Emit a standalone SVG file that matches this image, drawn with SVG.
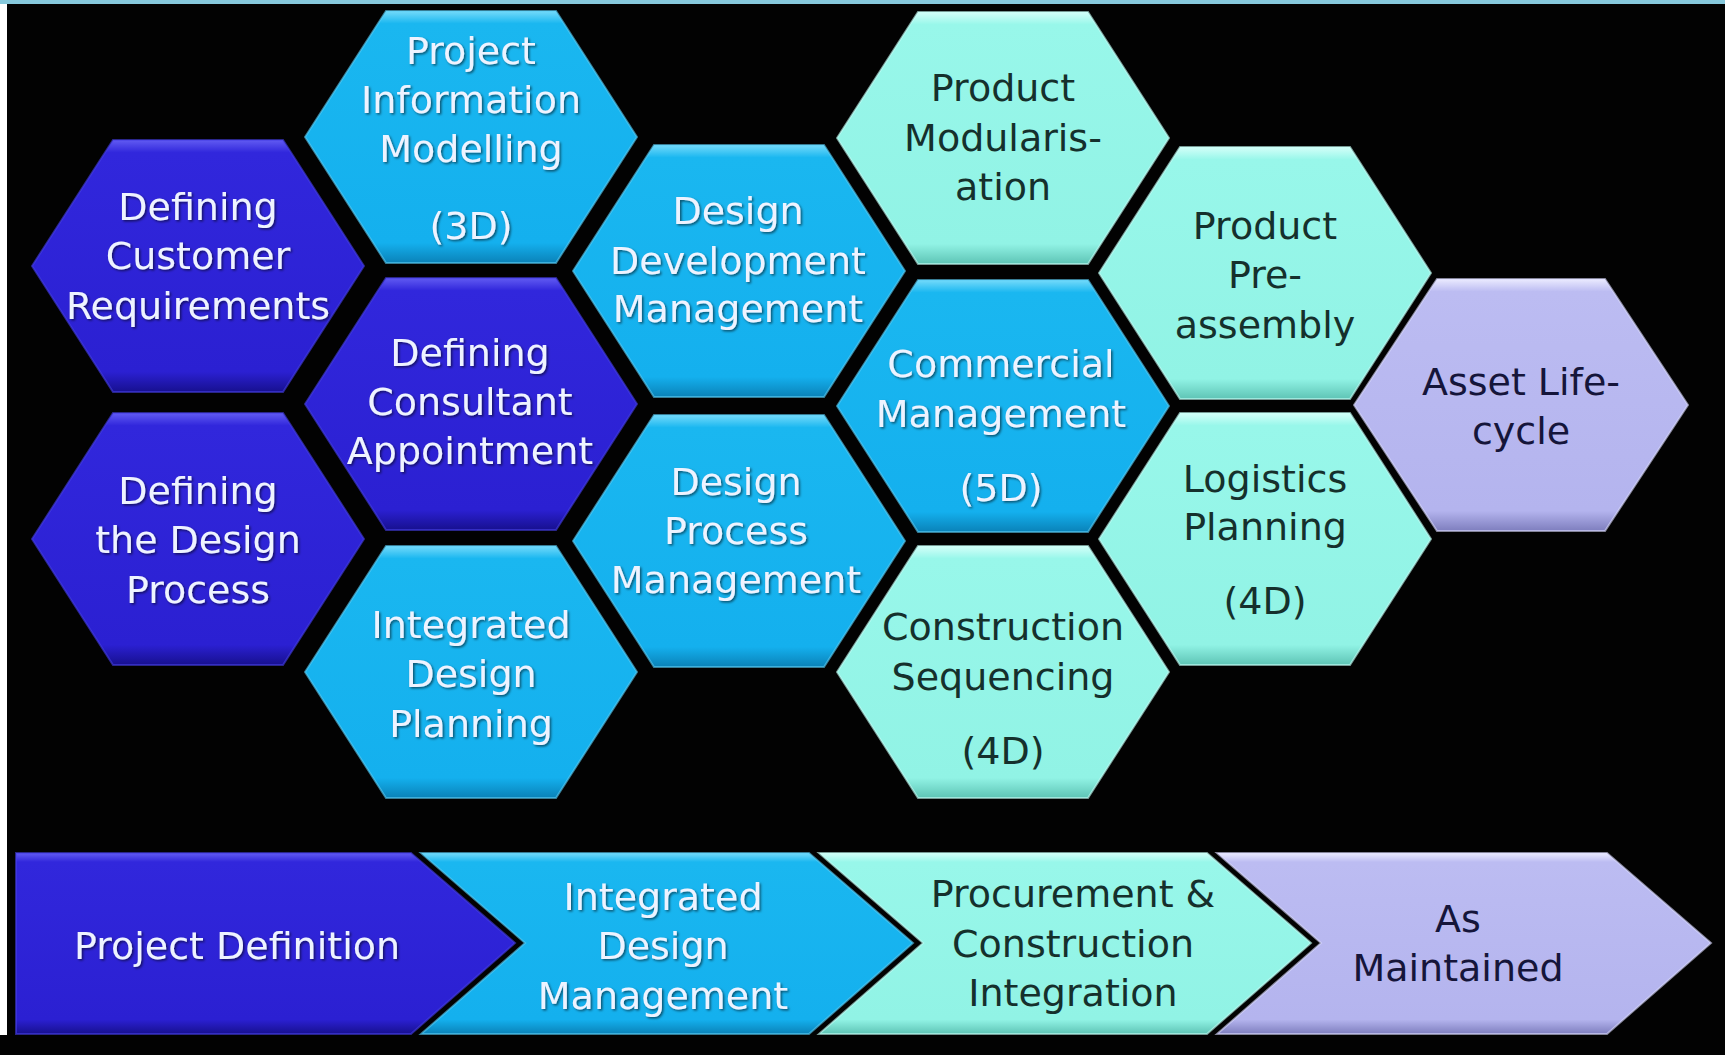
<svg xmlns="http://www.w3.org/2000/svg" width="1725" height="1055" viewBox="0 0 1725 1055">
<defs>
  <linearGradient id="gBlue" x1="0" y1="0" x2="0" y2="1">
    <stop offset="0" stop-color="#615bf2"/>
    <stop offset="0.05" stop-color="#3127dc"/>
    <stop offset="0.92" stop-color="#2b20d2"/>
    <stop offset="1" stop-color="#17108f"/>
  </linearGradient>
  <linearGradient id="gCyan" x1="0" y1="0" x2="0" y2="1">
    <stop offset="0" stop-color="#74dafa"/>
    <stop offset="0.05" stop-color="#1ab7f0"/>
    <stop offset="0.92" stop-color="#14b0ee"/>
    <stop offset="1" stop-color="#0a82b8"/>
  </linearGradient>
  <linearGradient id="gAqua" x1="0" y1="0" x2="0" y2="1">
    <stop offset="0" stop-color="#d4fff9"/>
    <stop offset="0.05" stop-color="#98f7ea"/>
    <stop offset="0.92" stop-color="#91f3e5"/>
    <stop offset="1" stop-color="#5ec4b5"/>
  </linearGradient>
  <linearGradient id="gLav" x1="0" y1="0" x2="0" y2="1">
    <stop offset="0" stop-color="#ebebff"/>
    <stop offset="0.05" stop-color="#bcbcf2"/>
    <stop offset="0.92" stop-color="#b4b4ee"/>
    <stop offset="1" stop-color="#7e7ebe"/>
  </linearGradient>
  <filter id="sh" x="-10%" y="-10%" width="120%" height="130%">
    <feDropShadow dx="1.5" dy="1.5" stdDeviation="1.2" flood-color="#000" flood-opacity="0.55"/>
  </filter>
</defs>
<style>
  .blue{fill:url(#gBlue);stroke:#4640e6;stroke-width:2;stroke-opacity:0.6}
  .cyan{fill:url(#gCyan);stroke:#5ccff6;stroke-width:2;stroke-opacity:0.6}
  .aqua{fill:url(#gAqua);stroke:#c4fff6;stroke-width:2;stroke-opacity:0.6}
  .lav{fill:url(#gLav);stroke:#dcdcff;stroke-width:2;stroke-opacity:0.6}
  text{font-family:"DejaVu Sans","Liberation Sans",sans-serif;font-size:38px;text-anchor:middle}
  .lt{fill:#eef3ff;filter:url(#sh)}
  .dk{fill:#15302c}
  .dl{fill:#15153a}
</style>
<rect x="0" y="0" width="1725" height="1055" fill="#020202"/>
<rect x="0" y="0" width="7" height="1035" fill="#ffffff"/>
<rect x="0" y="0" width="1725" height="4" fill="#86c9dc"/>

<g id="connectors"></g>

<g id="h-defining-customer">
  <polygon class="blue" points="32,266 113,140 283,140 364,266 283,392 113,392"/>
  <text class="lt" x="198" y="220">Defining</text>
  <text class="lt" x="198" y="269">Customer</text>
  <text class="lt" x="198" y="319">Requirements</text>
</g>
<g id="h-defining-design-process">
  <polygon class="blue" points="32,539 113,413 283,413 364,539 283,665 113,665"/>
  <text class="lt" x="198" y="504">Defining</text>
  <text class="lt" x="198" y="553">the Design</text>
  <text class="lt" x="198" y="603">Process</text>
</g>
<g id="h-project-information">
  <polygon class="cyan" points="305,137 386,11 556,11 637,137 556,263 386,263"/>
  <text class="lt" x="471" y="64">Project</text>
  <text class="lt" x="471" y="113">Information</text>
  <text class="lt" x="471" y="162">Modelling</text>
  <text class="lt" x="471" y="239">(3D)</text>
</g>
<g id="h-defining-consultant">
  <polygon class="blue" points="305,404 386,278 556,278 637,404 556,530 386,530"/>
  <text class="lt" x="470" y="366">Defining</text>
  <text class="lt" x="470" y="415">Consultant</text>
  <text class="lt" x="470" y="464">Appointment</text>
</g>
<g id="h-integrated-design-planning">
  <polygon class="cyan" points="305,672 386,546 556,546 637,672 556,798 386,798"/>
  <text class="lt" x="471" y="638">Integrated</text>
  <text class="lt" x="471" y="687">Design</text>
  <text class="lt" x="471" y="737">Planning</text>
</g>
<g id="h-design-development">
  <polygon class="cyan" points="573,271 654,145 824,145 905,271 824,397 654,397"/>
  <text class="lt" x="738" y="224">Design</text>
  <text class="lt" x="738" y="274">Development</text>
  <text class="lt" x="738" y="322">Management</text>
</g>
<g id="h-design-process">
  <polygon class="cyan" points="573,541 654,415 824,415 905,541 824,667 654,667"/>
  <text class="lt" x="736" y="495">Design</text>
  <text class="lt" x="736" y="544">Process</text>
  <text class="lt" x="736" y="593">Management</text>
</g>
<g id="h-product-modularisation">
  <polygon class="aqua" points="837,138 918,12 1088,12 1169,138 1088,264 918,264"/>
  <text class="dk" x="1003" y="101">Product</text>
  <text class="dk" x="1003" y="151">Modularis-</text>
  <text class="dk" x="1003" y="200">ation</text>
</g>
<g id="h-commercial">
  <polygon class="cyan" points="837,406 918,280 1088,280 1169,406 1088,532 918,532"/>
  <text class="lt" x="1001" y="377">Commercial</text>
  <text class="lt" x="1001" y="427">Management</text>
  <text class="lt" x="1001" y="501">(5D)</text>
</g>
<g id="h-construction-sequencing">
  <polygon class="aqua" points="837,672 918,546 1088,546 1169,672 1088,798 918,798"/>
  <text class="dk" x="1003" y="640">Construction</text>
  <text class="dk" x="1003" y="690">Sequencing</text>
  <text class="dk" x="1003" y="764">(4D)</text>
</g>
<g id="h-product-preassembly">
  <polygon class="aqua" points="1099,273 1180,147 1350,147 1431,273 1350,399 1180,399"/>
  <text class="dk" x="1265" y="239">Product</text>
  <text class="dk" x="1265" y="288">Pre-</text>
  <text class="dk" x="1265" y="338">assembly</text>
</g>
<g id="h-logistics-planning">
  <polygon class="aqua" points="1099,539 1180,413 1350,413 1431,539 1350,665 1180,665"/>
  <text class="dk" x="1265" y="492">Logistics</text>
  <text class="dk" x="1265" y="540">Planning</text>
  <text class="dk" x="1265" y="614">(4D)</text>
</g>
<g id="h-asset-lifecycle">
  <polygon class="lav" points="1354,405 1437,279 1605,279 1688,405 1605,531 1437,531"/>
  <text class="dl" x="1521" y="395">Asset Life-</text>
  <text class="dl" x="1521" y="444">cycle</text>
</g>

<g id="a-project-definition">
  <polygon class="blue" points="16,853 411,853 515,943 411,1034 16,1034"/>
  <text class="lt" x="237" y="959">Project Definition</text>
</g>
<g id="a-integrated-design-management">
  <polygon class="cyan" points="421,853 809,853 913,943 809,1034 421,1034 525,943"/>
  <text class="lt" x="663" y="910">Integrated</text>
  <text class="lt" x="663" y="959">Design</text>
  <text class="lt" x="663" y="1009">Management</text>
</g>
<g id="a-procurement-construction">
  <polygon class="aqua" points="819,853 1207,853 1311,943 1207,1034 819,1034 923,943"/>
  <text class="dk" x="1073" y="907">Procurement &amp;</text>
  <text class="dk" x="1073" y="957">Construction</text>
  <text class="dk" x="1073" y="1006">Integration</text>
</g>
<g id="a-as-maintained">
  <polygon class="lav" points="1217,853 1607,853 1711,943 1607,1034 1217,1034 1321,943"/>
  <text class="dl" x="1458" y="932">As</text>
  <text class="dl" x="1458" y="981">Maintained</text>
</g>
</svg>
